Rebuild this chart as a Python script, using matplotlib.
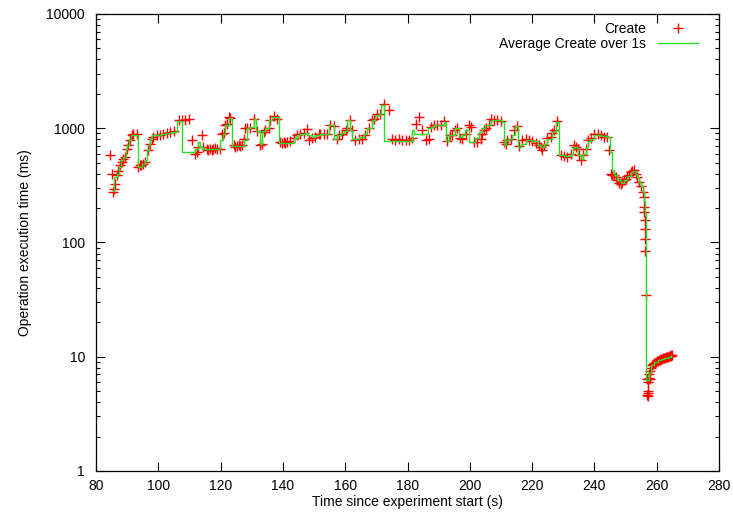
import matplotlib
matplotlib.use('Agg')
import matplotlib.pyplot as plt
from matplotlib.ticker import LogLocator, NullFormatter

plt.rcParams['font.family'] = ['Liberation Sans', 'DejaVu Sans']
plt.rcParams['font.size'] = 10

# individual Create operations (time s, duration ms)
create_t = [
    84.5, 85.0, 85.6, 85.8, 86.1, 86.6, 87.2, 87.7, 88.2, 88.8, 89.3, 89.9, 90.4, 90.9, 91.5, 92.0, 93.1,
    93.6, 94.1, 94.6, 95.2, 95.7, 96.8, 97.4, 97.9, 98.4, 99.5, 100.6, 101.6, 102.7, 103.8, 104.9,
    106.5, 107.5, 108.6, 109.7, 110.8, 111.8, 112.4, 112.9, 114.0, 114.5, 115.6, 116.1,
    116.7, 117.2, 117.7, 118.3, 118.8, 119.9, 120.4, 121.0, 121.5, 122.0, 122.6, 123.1, 124.2, 124.7,
    125.2, 125.8, 126.3, 126.8, 127.4, 127.9, 128.4, 129.5, 130.6, 131.7, 132.7, 133.3, 133.8, 134.3,
    135.4, 136.0, 137.0, 138.1, 139.2, 139.7, 140.2, 140.8, 141.3, 142.4, 143.5, 144.5, 145.6, 146.7,
    147.7, 148.3, 149.3, 150.4, 151.5,
    152.0, 153.1, 154.2, 155.2, 156.3, 157.4, 157.9, 159.0, 160.1, 160.6, 161.7, 162.2, 163.3, 164.4,
    165.4, 166.5, 167.6, 168.6, 169.2, 170.2, 171.3, 172.4, 174.0, 175.1, 176.1, 177.2, 178.3, 179.4,
    180.4, 181.5, 182.6, 183.6, 184.7, 185.8, 186.9,
    187.4, 188.5, 189.5, 190.6, 191.7, 192.8, 193.6, 194.4, 195.4, 196.0, 197.0, 197.6, 198.7, 199.7,
    200.3, 201.3, 202.4, 203.5, 204.0, 204.5, 205.1, 206.2, 206.7, 207.8, 208.8, 209.9, 211.0, 211.5,
    212.0, 213.1, 214.2, 215.3, 215.8, 216.9, 218.0, 219.0, 220.1, 221.2, 222.2,
    222.8, 223.3, 223.8, 224.9, 226.0, 226.5, 227.1, 228.1, 229.2, 230.3, 231.3, 232.4, 233.5, 234.0,
    234.6, 235.1, 235.6, 236.2, 237.2, 237.8, 238.8, 239.9, 241.0, 242.1, 243.1, 244.2, 244.7, 245.3,
    245.8, 246.3, 246.9, 247.4, 248.0, 248.5, 249.0, 249.6, 250.1, 250.6, 251.2, 251.7, 252.2, 252.8,
    253.3, 253.8, 254.4, 254.9, 255.5,
    255.9, 256.0, 256.0, 256.1, 256.2, 256.3, 256.4, 256.6, 256.9, 257.0, 257.1, 257.2, 257.3, 257.1,
    257.4, 257.6, 257.8, 258.0, 258.2, 258.5, 258.8, 259.1, 259.4, 259.7, 260.0, 260.3, 260.6, 260.9,
    261.2, 261.5, 261.8, 262.1, 262.4, 262.7, 263.0, 263.3, 263.6, 263.9, 264.2, 264.5, 264.7, 264.9,
]
create_ms = [
    580, 400, 276, 296, 327, 387, 420, 473, 506, 542, 560, 663, 709, 785, 868, 897, 897,
    458, 473, 473, 490, 506, 641, 734, 811, 839, 868, 879, 897, 910, 928, 941,
    1184, 1192, 1192, 1200, 785, 600, 620, 686, 868, 686, 663, 641,
    663, 650, 663, 675, 663, 663, 890, 905, 1070, 1090, 1256, 1231, 710, 686,
    700, 709, 700, 709, 800, 995, 1000, 1010, 1200, 941, 720, 734, 930, 960,
    995, 1184, 1280, 1200, 760, 745, 760, 745, 760, 770, 820, 880, 897, 910,
    980, 785, 820, 839, 897,
    897, 897, 885, 1062, 1050, 811, 868, 897, 960, 995, 1184, 960, 785, 811,
    811, 868, 995, 1184, 1216, 1345, 1345, 1614, 1438, 801, 785, 801, 785, 785,
    785, 820, 1100, 1256, 960, 785, 801,
    1029, 1062, 1062, 1077, 1151, 774, 868, 880, 975, 1007, 822, 811, 897, 1062,
    1029, 760, 760, 811, 897, 960, 995, 1062, 1200, 1184, 1184, 1150, 760, 730,
    785, 800, 960, 1040, 700, 785, 800, 785, 770, 750, 720,
    686, 641, 709, 822, 839, 900, 960, 1150, 580, 572, 560, 600, 720, 686,
    663, 580, 524, 580, 663, 785, 822, 897, 897, 870, 840, 840, 641, 400,
    390, 387, 374, 350, 335, 327, 340, 350, 360, 380, 387, 414, 420, 428,
    400, 374, 340, 310, 276,
    250, 204, 185, 156, 132, 108, 85, 35, 6.4, 4.6, 4.8, 4.5, 5.0, 6.0,
    6.5, 7.0, 6.4, 7.5, 8.0, 8.4, 8.6, 8.8, 8.9, 9.0, 9.1, 9.2, 9.3, 9.4,
    9.4, 9.5, 9.6, 9.7, 9.7, 9.8, 9.9, 10.0, 10.0, 10.1, 10.2, 10.3, 10.1, 10.4,
]

# 1 s averages (step line)
avg_t = [
    85.5, 85.9, 86.6, 87.3, 88.0, 88.7, 89.6, 90.1, 90.7, 91.3, 93.4, 94.9, 95.8, 96.3, 96.9, 97.4,
    97.9, 99.5, 101.0, 102.5, 104.0, 105.9, 107.5, 111.8, 112.8, 113.4, 114.5,
    116.7, 119.9, 120.7, 121.5, 122.6, 123.6, 127.4, 128.4, 129.5, 130.6, 131.5, 132.5, 133.3, 134.3,
    135.4, 136.5, 138.6, 143.5, 144.5, 145.6, 147.2, 147.7, 149.3, 150.4,
    152.0, 154.7, 156.5, 157.4, 158.5, 159.7, 160.5, 161.7, 162.3, 164.4, 166.0, 167.0, 168.6, 169.7,
    171.1, 171.5, 172.4, 181.5, 182.2, 186.5,
    187.4, 188.5, 191.7, 192.5, 193.3, 195.1, 196.5, 197.6, 198.3, 199.7, 201.8, 202.8, 203.8, 204.8,
    206.7, 208.5, 210.4, 210.9, 211.5, 212.6, 213.6, 214.4, 215.5, 216.3, 217.9, 220.0, 222.0,
    222.8, 223.8, 224.9, 226.5, 227.6, 228.7, 230.3, 232.4, 233.0, 234.3, 234.7, 235.6, 236.2, 237.2,
    237.8, 238.8, 239.9, 241.0, 242.1, 244.2, 245.0, 245.5, 246.3, 247.4, 248.5, 249.6, 250.6, 251.7,
    252.5, 253.3, 253.8, 254.4, 254.9, 255.5, 255.9, 256.2, 256.6, 257.5, 258.1, 259.2, 260.3, 261.4,
    262.4, 263.5, 264.6,
]
avg_ms = [
    280, 374, 400, 458, 524, 560, 663, 709, 785, 879, 458, 490, 524, 641, 734, 811,
    868, 880, 897, 910, 928, 1150, 620, 663, 760, 690, 663,
    663, 785, 897, 1062, 1231, 700, 785, 995, 1029, 1200, 941, 734, 941, 995,
    1184, 1256, 745, 820, 879, 897, 905, 868, 839, 879,
    897, 1062, 811, 879, 905, 941, 1184, 975, 811, 839, 897, 995, 1184, 1300,
    1345, 1591, 775, 960, 897, 1000,
    1029, 1062, 1140, 774, 868, 1000, 839, 868, 975, 760, 822, 920, 1000, 1077,
    1184, 1170, 1130, 719, 785, 811, 879, 1045, 686, 734, 785, 770, 720,
    686, 734, 811, 928, 1140, 588, 572, 600, 686, 675, 588, 542, 600, 686,
    770, 811, 879, 870, 860, 840, 620, 420, 387, 350, 330, 350, 380, 414,
    420, 400, 374, 340, 310, 276, 230, 180, 6.2, 7.2, 8.4, 9.0, 9.3, 9.6,
    9.8, 10.0, 10.3,
]

x_ticks = [80, 100, 120, 140, 160, 180, 200, 220, 240, 260, 280]
y_ticks = [1, 10, 100, 1000, 10000]
y_tick_labels = ['1', '10', '100', '1000', '10000']

fig = plt.figure(figsize=(7.33, 5.16), dpi=100)
ax = fig.add_axes([96 / 733, 1 - 471 / 516, 623 / 733, 457 / 516])

ax.plot(create_t, create_ms, '+', color='#ff0000', ms=6.5, mew=1.0, label='Create')
ax.plot(avg_t, avg_ms, color='#22e022', lw=1.0, drawstyle='steps-post',
        label='Average Create over 1s')

ax.set_yscale('log')
ax.set_xlim(80, 280)
ax.set_ylim(1, 10000)
ax.set_xticks(x_ticks)
ax.set_yticks(y_ticks)
ax.set_yticklabels(y_tick_labels)
ax.yaxis.set_minor_locator(LogLocator(base=10, subs=range(2, 10)))
ax.yaxis.set_minor_formatter(NullFormatter())
ax.tick_params(which='both', direction='in', top=True, right=True, width=0.8)
ax.tick_params(which='major', length=6.5)
ax.tick_params(which='minor', length=3.2)
ax.tick_params(axis='x', pad=6)
ax.tick_params(axis='y', pad=8)
for s in ax.spines.values():
    s.set_linewidth(0.9)

ax.set_xlabel('Time since experiment start (s)', labelpad=1)
ax.set_ylabel('Operation execution time (ms)', labelpad=10)

ax.legend(loc='upper right', bbox_to_anchor=(0.966, 0.983), frameon=False,
          markerfirst=False, numpoints=1, handlelength=2.9, handletextpad=0.8,
          labelspacing=0.1, borderpad=0, borderaxespad=0)

fig.savefig('out.png', dpi=100)
